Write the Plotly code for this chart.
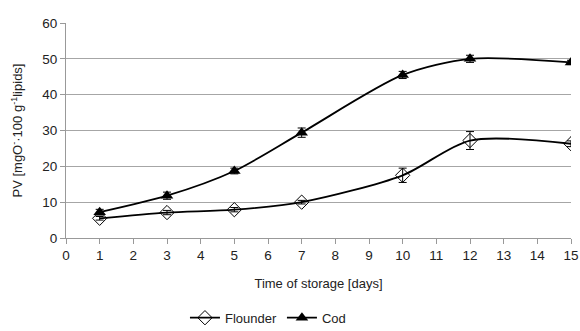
import plotly.graph_objects as go

days = [1, 3, 5, 7, 10, 12, 15]
flounder = [5.5, 7.1, 7.9, 10.0, 17.5, 27.2, 26.3]
flounder_err = [0.5, 0.6, 0.6, 0.5, 2.0, 2.5, 0.8]
cod = [7.2, 11.8, 18.7, 29.4, 45.5, 50.0, 49.0]
cod_err = [0.8, 1.0, 0.8, 1.3, 1.0, 1.0, 0.6]
x_ticks = list(range(0, 16))
y_ticks = [0, 10, 20, 30, 40, 50, 60]

font = "Liberation Sans, Arial, sans-serif"

fig = go.Figure()
fig.add_trace(go.Scatter(
    x=days, y=flounder, name="Flounder", mode="lines+markers",
    line=dict(color="black", width=1.8, shape="spline", smoothing=0.8),
    marker=dict(symbol="diamond-open", size=11, color="black", line=dict(width=1)),
    error_y=dict(type="data", array=flounder_err, color="black", thickness=1, width=4),
))
fig.add_trace(go.Scatter(
    x=days, y=cod, name="Cod", mode="lines+markers",
    line=dict(color="black", width=1.8, shape="spline", smoothing=0.8),
    marker=dict(symbol="triangle-up", size=11, color="black"),
    error_y=dict(type="data", array=cod_err, color="black", thickness=1, width=4),
))

fig.update_layout(
    width=580, height=331,
    margin=dict(l=66, r=9, t=23, b=93, autoexpand=False),
    paper_bgcolor="white", plot_bgcolor="white",
    font=dict(family=font, size=13, color="#222"),
    showlegend=True,
    legend=dict(orientation="h", xref="container", x=0.462, xanchor="center",
                yref="container", y=0.04, yanchor="middle",
                font=dict(size=13), itemwidth=30, tracegroupgap=0),
    xaxis=dict(
        range=[0, 15], tickvals=x_ticks, ticktext=[str(v) for v in x_ticks],
        showgrid=False, showline=True, linecolor="#999", linewidth=1,
        ticks="outside", tickcolor="#999", ticklen=5, zeroline=False, automargin=False,
        title=dict(text="Time of storage [days]", font=dict(size=13), standoff=16),
        tickfont=dict(size=13.5),
    ),
    yaxis=dict(
        range=[0, 60], tickvals=y_ticks,
        showgrid=True, gridcolor="#a6a6a6", gridwidth=1,
        showline=True, linecolor="#999", linewidth=1,
        ticks="outside", tickcolor="#999", ticklen=5, zeroline=False, automargin=False,
        title=dict(text="PV [mgO<sup>-</sup>·100 g<sup>-1</sup>lipids]", font=dict(size=13), standoff=16),
        tickfont=dict(size=13.5),
    ),
)

fig.write_html("out.html")
